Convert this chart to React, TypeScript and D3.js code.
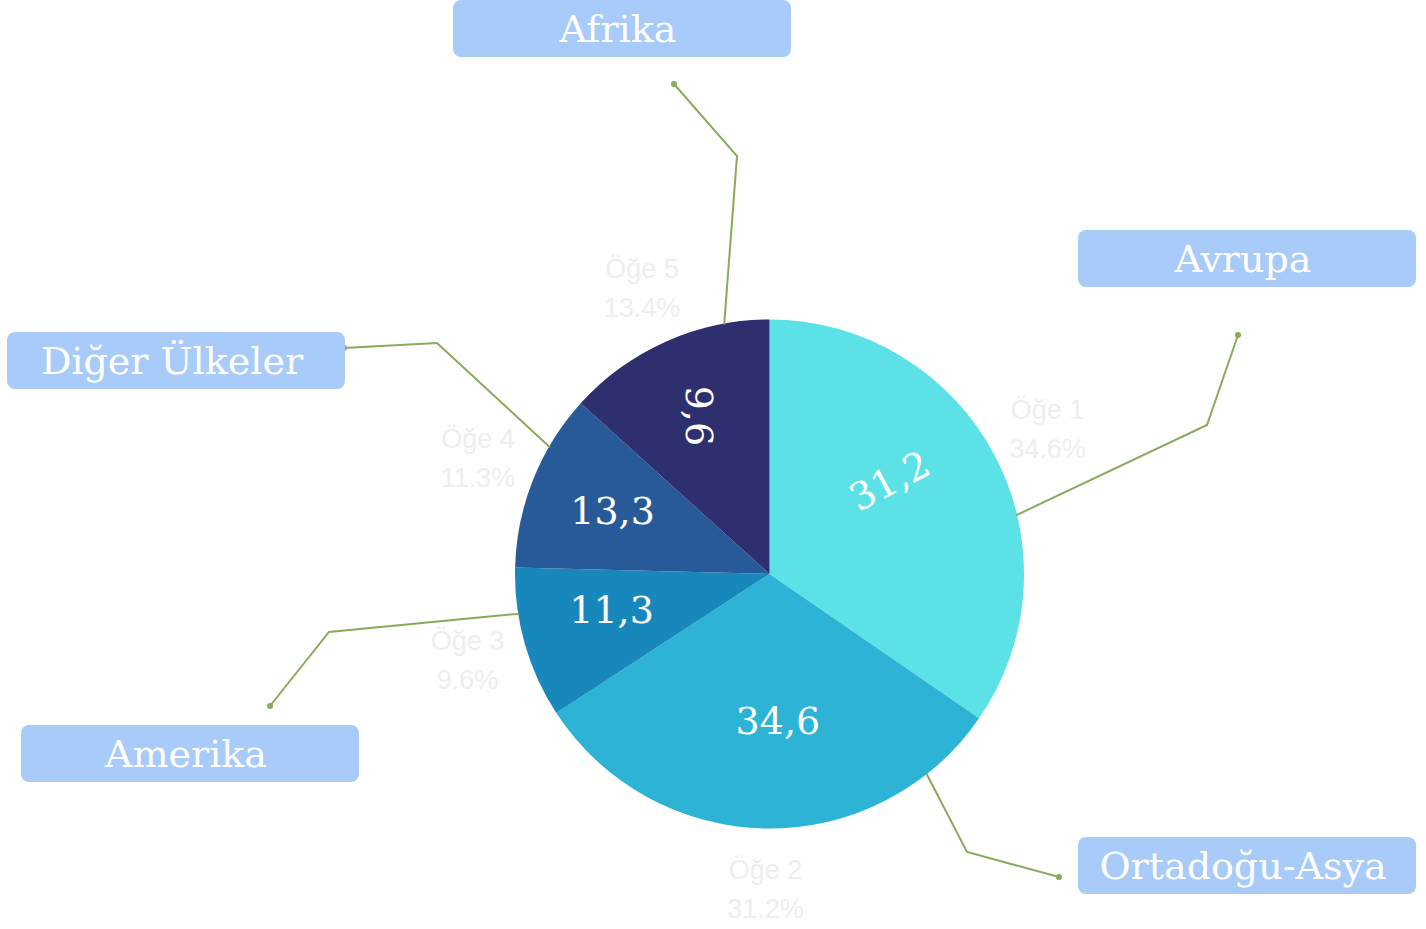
import React from "react";
import * as d3 from "d3";

const items = ["Öğe 1", "Öğe 2", "Öğe 3", "Öğe 4", "Öğe 5"];
const shares = [34.6, 31.2, 9.6, 11.3, 13.3];
const percentLabels = ["34.6%", "31.2%", "9.6%", "11.3%", "13.4%"];
const dataLabels = ["31,2", "34,6", "11,3", "13,3", "9,6"];
const colors = ["#5CE1E6", "#2CB3D5", "#1888BC", "#285A99", "#2E2F6E"];

const regions = ["Avrupa", "Ortadoğu-Asya", "Amerika", "Diğer Ülkeler", "Afrika"];
// callout layout: edge angle (deg), elbow, end, box
const calloutAngles = [76.6, 141.8, 261, 300, 349.7];
const calloutElbows: [number, number][] = [[1207, 425], [967, 852], [329, 632], [437, 343], [737, 156]];
const calloutEnds: [number, number][] = [[1238, 335], [1059, 877], [270, 706], [344, 348], [674, 84]];
const calloutBoxes: [number, number][] = [[1078, 230], [1078, 837], [21, 725], [7, 332], [453, 0]];

const W = 1426, H = 929;
const cx = 769.5, cy = 574, R = 254.5;
const labelAngleOffset = [-10, -4, 3, 0, 0];
const labelRadius = [152, 147, 162, 169, 173];
const labelRotate = [-28, 0, 0, 0, 90];

export default function App() {
  const pie = d3.pie<number>().sort(null).value((d) => d).startAngle(0).endAngle(2 * Math.PI);
  const arcs = pie(shares);
  const arc = d3.arc<d3.PieArcDatum<number>>().innerRadius(0).outerRadius(R);
  const deg = (a: number) => (a * Math.PI) / 180;
  const boxW = 338, boxH = 57;
  return (
    <div style={{ position: "absolute", left: 0, top: 0 }}>
      <svg width={W} height={H} style={{ display: "block" }}>
        <rect width={W} height={H} fill="#ffffff" />
        <g transform={`translate(${cx},${cy})`}>
          {arcs.map((a, i) => (
            <path key={i} d={arc(a) || ""} fill={colors[i]} />
          ))}
          {arcs.map((a, i) => {
            const mid = (a.startAngle + a.endAngle) / 2 + deg(labelAngleOffset[i]);
            const [x, y] = d3.pointRadial(mid, labelRadius[i]);
            return (
              <text
                key={"dl" + i}
                transform={`translate(${x},${y}) rotate(${labelRotate[i]})`}
                textAnchor="middle"
                dominantBaseline="central"
                fill="#ffffff"
                fontFamily="'DejaVu Serif', serif"
                fontSize={38}
              >
                {dataLabels[i]}
              </text>
            );
          })}
          {arcs.map((a, i) => {
            const mid = (a.startAngle + a.endAngle) / 2;
            const [x, y] = d3.pointRadial(mid, 314);
            return (
              <text
                key={"ol" + i}
                x={x}
                y={y}
                textAnchor="middle"
                fill="#eeeeee"
                fontFamily="'Liberation Sans', Arial, sans-serif"
                fontSize={27}
              >
                <tspan x={x} dy="-0.35em">{items[i]}</tspan>
                <tspan x={x} dy="1.45em">{percentLabels[i]}</tspan>
              </text>
            );
          })}
        </g>
        {regions.map((r, i) => {
          const [sx, sy] = d3.pointRadial(deg(calloutAngles[i]), R - 1);
          const pts: [number, number][] = [[cx + sx, cy + sy], calloutElbows[i], calloutEnds[i]];
          const line = d3.line()(pts) || "";
          return (
            <g key={"c" + i}>
              <path d={line} fill="none" stroke="#8AAA5C" strokeWidth={2} />
              <circle cx={calloutEnds[i][0]} cy={calloutEnds[i][1]} r={3} fill="#8AAA5C" />
            </g>
          );
        })}
        {regions.map((r, i) => {
          const [bx, by] = calloutBoxes[i];
          return (
            <g key={"b" + i}>
              <rect x={bx} y={by} width={boxW} height={boxH} rx={8} ry={8} fill="#A8CBFA" />
              <text
                x={bx + boxW / 2 - 4}
                y={by + boxH / 2}
                textAnchor="middle"
                dominantBaseline="central"
                fill="#ffffff"
                fontFamily="'DejaVu Serif', serif"
                fontSize={38}
              >
                {r}
              </text>
            </g>
          );
        })}
      </svg>
    </div>
  );
}
